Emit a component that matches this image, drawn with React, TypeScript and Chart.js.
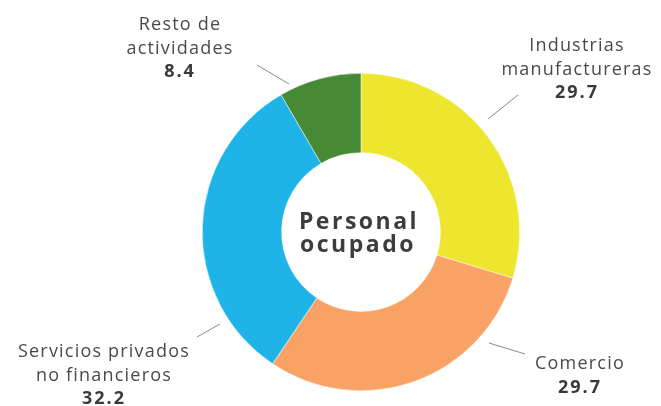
import React, { useEffect, useRef } from "react";
import { Chart, registerables } from "chart.js";

Chart.register(...registerables);

const categories = ["Industrias manufactureras", "Comercio", "Servicios privados no financieros", "Resto de actividades"];
const labelLines = [["Industrias", "manufactureras"], ["Comercio"], ["Servicios privados", "no financieros"], ["Resto de", "actividades"]];
const values = [29.7, 29.7, 32.2, 8.4];
const colors = ["#EEE62E", "#F8A266", "#1EB4E8", "#468A35"];
const centerTitle = ["Personal", "ocupado"];

// annotation layout relative to the doughnut centre
const labelLayout = [
  { line: [157, -137, 127, -113], tx: 216, ty: -181 },
  { line: [128, 111, 164, 122], tx: 219, ty: 137 },
  { line: [-141, 92, -164, 105], tx: -257, ty: 125 },
  { line: [-104, -167, -72, -148], tx: -181, ty: -202 },
];

const labelsPlugin = {
  id: "labelsPlugin",
  afterDraw(chart: any) {
    const ctx = chart.ctx as CanvasRenderingContext2D;
    const arc = chart.getDatasetMeta(0).data[0];
    const cx = arc.x;
    const cy = arc.y;
    ctx.save();
    ctx.textAlign = "center";
    ctx.textBaseline = "alphabetic";
    labelLayout.forEach((l, i) => {
      ctx.strokeStyle = "#8a8a8a";
      ctx.lineWidth = 1;
      ctx.beginPath();
      ctx.moveTo(cx + l.line[0], cy + l.line[1]);
      ctx.lineTo(cx + l.line[2], cy + l.line[3]);
      ctx.stroke();
      const lines = labelLines[i];
      (ctx as any).letterSpacing = "1.2px";
      ctx.fillStyle = "#4a4a4a";
      ctx.font = "18px 'Open Sans'";
      lines.forEach((t, j) => {
        ctx.fillText(t, cx + l.tx, cy + l.ty + j * 23.5);
      });
      ctx.font = "bold 18px 'Open Sans'";
      ctx.fillStyle = "#3a3a3a";
      (ctx as any).letterSpacing = "2px";
      ctx.fillText(values[i].toFixed(1), cx + l.tx, cy + l.ty + lines.length * 23.5);
    });
    ctx.fillStyle = "#3d3d3d";
    ctx.font = "bold 23px 'Open Sans'";
    (ctx as any).letterSpacing = "2.5px";
    ctx.fillText(centerTitle[0], cx - 2, cy - 3);
    ctx.fillText(centerTitle[1], cx - 3, cy + 20);
    ctx.restore();
  },
};

export default function App() {
  const ref = useRef<HTMLCanvasElement>(null);
  useEffect(() => {
    document.body.style.margin = "0";
    const chart = new Chart(ref.current!, {
      type: "doughnut",
      data: {
        labels: categories,
        datasets: [
          {
            data: values,
            backgroundColor: colors,
            borderColor: "#ffffff",
            borderWidth: 0.5,
          },
        ],
      },
      options: {
        responsive: false,
        animation: false,
        cutout: "50%",
        layout: { padding: { left: 202, right: 141, top: 73, bottom: 15 } },
        plugins: { legend: { display: false }, tooltip: { enabled: false } },
      },
      plugins: [labelsPlugin],
    });
    return () => chart.destroy();
  }, []);
  return <canvas ref={ref} width={661} height={406} style={{ display: "block" }} />;
}
